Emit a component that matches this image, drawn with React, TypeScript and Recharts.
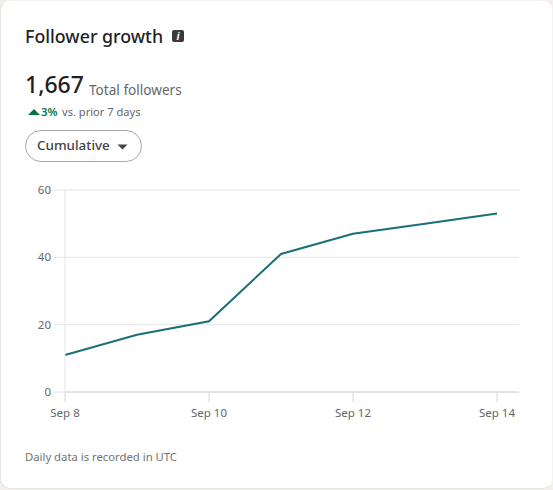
import React from 'react';
import { LineChart, Line, XAxis, YAxis, CartesianGrid } from 'recharts';

const days = ['Sep 8', 'Sep 9', 'Sep 10', 'Sep 11', 'Sep 12', 'Sep 13', 'Sep 14'];
const followers = [11, 17, 21, 41, 47, 50, 53];
const yTicks = [0, 20, 40, 60];

const chartData = days.map((day, i) => ({ day, followers: followers[i] }));

const FONT = '"Noto Sans", sans-serif';
const GRID = '#e4e4e4';
const TICK_TEXT = { fill: '#666666', fontSize: 11.5, fontFamily: FONT };

const text = (left: number, top: number, size: number, color: string, extra: React.CSSProperties = {}): React.CSSProperties => ({
    position: 'absolute',
    left,
    top,
    fontSize: size,
    lineHeight: `${Math.round(size) + 4}px`,
    color,
    whiteSpace: 'nowrap',
    ...extra,
});

export default function App() {
    return (
        <div style={{ position: 'absolute', left: 0, top: 0, width: 553, height: 490, background: '#f1f0ec', fontFamily: FONT, overflow: 'hidden' }}>
            {/* Card */}
            <div style={{ position: 'absolute', left: 0, top: 0, width: 553, height: 489, background: '#fff', borderRadius: 10, border: '1px solid #e4e3df', borderTopColor: '#f4f3f0', borderRightColor: '#f4f3f0', boxSizing: 'border-box' }} />

            <div style={text(25, 25, 17.8, '#1f1f1f', { fontWeight: 500 })}>Follower growth</div>
            <div style={{ position: 'absolute', left: 172, top: 30, width: 12, height: 12, background: '#3a3a3a', borderRadius: 2, color: '#fff', fontSize: 10, lineHeight: '12px', textAlign: 'center', fontWeight: 700, fontStyle: 'italic' }}>i</div>

            <div style={text(25, 71, 23, '#1f1f1f', { fontWeight: 500 })}>1,667</div>
            <div style={text(89, 81, 13.6, '#666666')}>Total followers</div>

            <svg style={{ position: 'absolute', left: 28, top: 108, width: 12, height: 8 }} viewBox="0 0 12 8">
                <path d="M0 7 L6 1 L12 7 Z" fill="#057642" />
            </svg>
            <div style={text(41, 104, 11.5, '#057642', { fontWeight: 600 })}>3%</div>
            <div style={text(62, 104, 11.1, '#666666')}>vs. prior 7 days</div>

            <div style={{ position: 'absolute', left: 25, top: 130, width: 117, height: 32, border: '1px solid #a8a8a8', borderRadius: 16, boxSizing: 'border-box' }} />
            <div style={text(37, 137, 13.4, '#444444', { fontWeight: 500 })}>Cumulative</div>
            <svg style={{ position: 'absolute', left: 117, top: 144, width: 11, height: 6 }} viewBox="0 0 11 6">
                <path d="M0.5 0.5 L10.5 0.5 L5.5 5.5 Z" fill="#444444" />
            </svg>

            <div style={{ position: 'absolute', left: 0, top: 0 }}>
                <LineChart width={553} height={490} data={chartData} margin={{ top: 190, right: 34, bottom: 68, left: 25 }}>
                    <CartesianGrid horizontal vertical={false} stroke={GRID} />
                    <XAxis
                        dataKey="day"
                        interval={1}
                        padding={{ left: 0, right: 22 }}
                        height={30}
                        tickSize={10}
                        stroke="#d6d6d6"
                        tick={TICK_TEXT}
                        tickMargin={7}
                    />
                    <YAxis
                        domain={[0, 60]}
                        ticks={yTicks}
                        width={40}
                        tickSize={11}
                        stroke={GRID}
                        tick={TICK_TEXT}
                        tickMargin={3}
                    />
                    <Line dataKey="followers" type="linear" stroke="#1a6f78" strokeWidth={2} dot={false} isAnimationActive={false} />
                </LineChart>
            </div>

            <div style={text(25, 449, 11.3, '#737373')}>Daily data is recorded in UTC</div>
        </div>
    );
}
